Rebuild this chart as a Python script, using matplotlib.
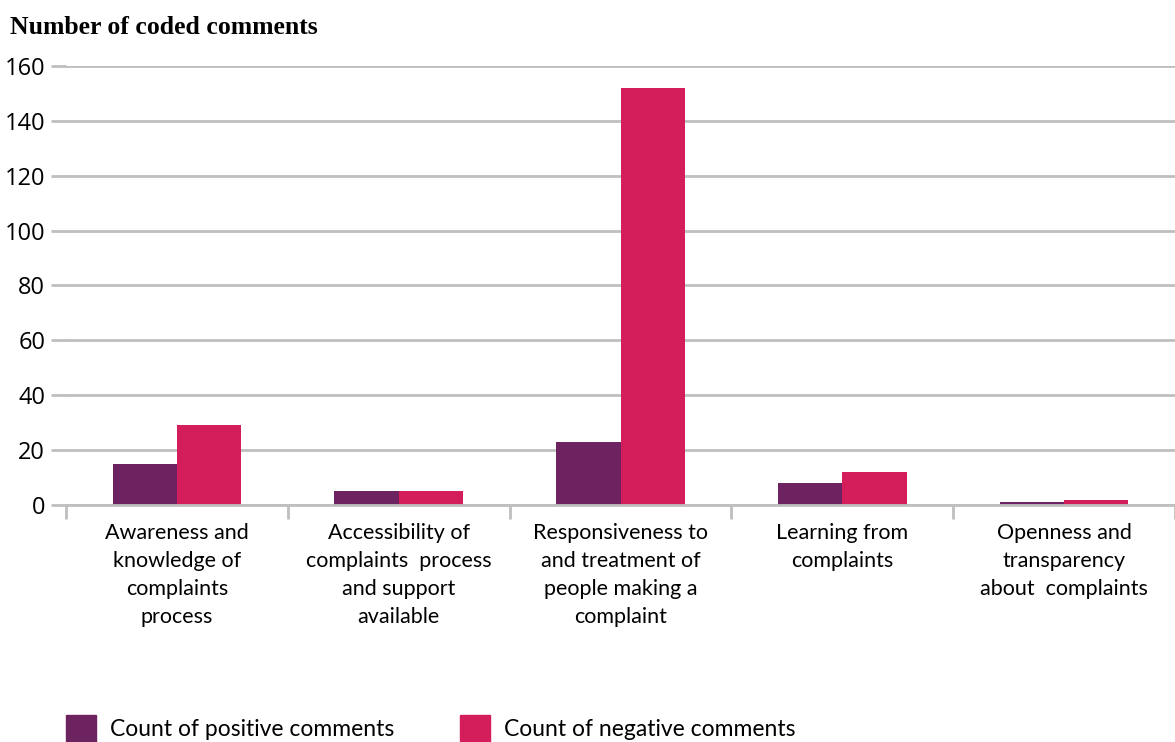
import numpy as np
import matplotlib.pyplot as plt
from matplotlib.patches import Rectangle

categories = ["Awareness and\nknowledge of\ncomplaints\nprocess",
              "Accessibility of\ncomplaints  process\nand support\navailable",
              "Responsiveness to\nand treatment of\npeople making a\ncomplaint",
              "Learning from\ncomplaints",
              "Openness and\ntransparency\nabout  complaints"]
positive = [15, 5, 23, 8, 1]
negative = [29, 5, 152, 12, 2]
series_names = ["Count of positive comments", "Count of negative comments"]
colors = ["#6c2360", "#d41e5c"]
grid_col = "#bfbfbf"

fig = plt.figure(figsize=(11.75, 7.42), dpi=100)
ax = fig.add_axes([66/1175, 237/742, 1 - 66/1175, (505-66)/742])

x = np.arange(len(categories))
w = 0.29
ax.bar(x - w/2, positive, w, color=colors[0], zorder=3)
ax.bar(x + w/2, negative, w, color=colors[1], zorder=3)

ax.set_xlim(-0.5, 4.47)
ax.set_ylim(0, 160)
ax.set_yticks(range(0, 161, 20))
ax.yaxis.grid(True, color=grid_col, linewidth=2, zorder=0)
for s in ["top", "right", "left"]:
    ax.spines[s].set_visible(False)
ax.spines["bottom"].set_color(grid_col)
ax.spines["bottom"].set_linewidth(2)
ax.spines["bottom"].set_zorder(4)

ax.tick_params(axis="y", length=11, width=2, color=grid_col, pad=4,
               labelsize=17, labelfontfamily="Open Sans")
ax.set_xticks(np.arange(-0.5, 4.6, 1))
ax.set_xticklabels([])
ax.tick_params(axis="x", length=10, width=2, color=grid_col)
for i, c in enumerate(categories):
    ax.text(i, -6.5, c, ha="center", va="top", fontsize=15.5, family="Lato",
            linespacing=1.5)

fig.text(10/1175, 1 - 27/742, "Number of coded comments", fontsize=18.5,
         fontweight="bold", family="Liberation Serif", va="center")

# legend
for (lx, tx), name, col in zip([(66, 110), (460, 504)], series_names, colors):
    fig.patches.append(Rectangle((lx/1175, 0), 30/1175, 27/742,
                                 transform=fig.transFigure, color=col))
    fig.text(tx/1175, 13/742, name, fontsize=16.5, family="Lato",
             va="center")

fig.savefig("out.png", dpi=100)
